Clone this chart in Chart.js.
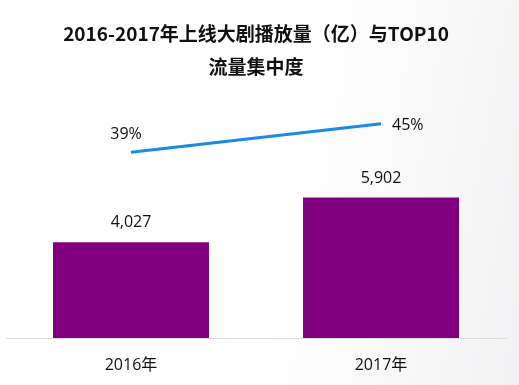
<!DOCTYPE html>
<html><head><meta charset="utf-8">
<script src="https://cdn.jsdelivr.net/npm/chart.js@4/dist/chart.umd.min.js"></script>
<style>
html,body{margin:0;padding:0;}
body{width:519px;height:385px;background:linear-gradient(100deg,#ffffff 0%,#ffffff 55%,#f2f2f4 100%);overflow:hidden;}
#wrap{width:519px;height:385px;}
</style></head>
<body><div id="wrap"><canvas id="c" width="519" height="385"></canvas></div>
<script>
const titleLines = ['2016-2017年上线大剧播放量（亿）与TOP10', '流量集中度'];
const categories = ['2016年', '2017年'];
const playVolume = [4027, 5902];
const top10Share = [39, 45];

const labelFont = '16px "Open Sans", "Noto Sans CJK SC", sans-serif';

const valueLabels = {
  id: 'valueLabels',
  afterDatasetsDraw(chart) {
    const ctx = chart.ctx;
    ctx.save();
    ctx.font = labelFont;
    ctx.fillStyle = '#111';
    ctx.textBaseline = 'middle';
    const barMeta = chart.getDatasetMeta(1);
    barMeta.data.forEach((el, i) => {
      ctx.textAlign = 'center';
      ctx.fillText(playVolume[i].toLocaleString('en-US'), el.x, el.y - 19.5);
    });
    const lineMeta = chart.getDatasetMeta(0);
    lineMeta.data.forEach((el, i) => {
      const t = top10Share[i] + '%';
      if (i === 0) {
        ctx.textAlign = 'center';
        ctx.fillText(t, el.x - 5, el.y - 18);
      } else {
        ctx.textAlign = 'left';
        ctx.fillText(t, el.x + 11, el.y + 1.5);
      }
    });
    ctx.restore();
  }
};

new Chart(document.getElementById('c'), {
  data: {
    labels: categories,
    datasets: [
      {
        type: 'line',
        data: top10Share,
        yAxisID: 'y2',
        borderColor: '#1a8ae6',
        borderWidth: 3,
        pointRadius: 0,
        fill: false,
        order: 0
      },
      {
        type: 'bar',
        data: playVolume,
        yAxisID: 'y',
        backgroundColor: '#800080',
        categoryPercentage: 1,
        barPercentage: 0.624,
        order: 1
      }
    ]
  },
  options: {
    responsive: false,
    animation: false,
    layout: { padding: { left: 6, right: 13, top: 0, bottom: 0 } },
    plugins: {
      legend: { display: false },
      tooltip: { enabled: false },
      title: {
        display: true,
        text: titleLines,
        color: '#111',
        font: { family: '"Noto Sans CJK SC", sans-serif', size: 19, weight: 'bold', lineHeight: 33 / 19 },
        padding: { top: 17, bottom: 17 }
      }
    },
    scales: {
      x: {
        grid: { display: true, drawOnChartArea: false, color: 'rgba(0,0,0,0)', tickLength: 7 },
        border: { display: true, color: '#dcdcdc', width: 1 },
        ticks: {
          color: '#111',
          padding: 10.4,
          font: { family: '"Open Sans", "Noto Sans CJK SC", sans-serif', size: 16 }
        }
      },
      y: { display: false, min: 0, max: 10000 },
      y2: { display: false, min: 0, max: 50, position: 'right' }
    }
  },
  plugins: [valueLabels]
});
</script>
</body></html>
